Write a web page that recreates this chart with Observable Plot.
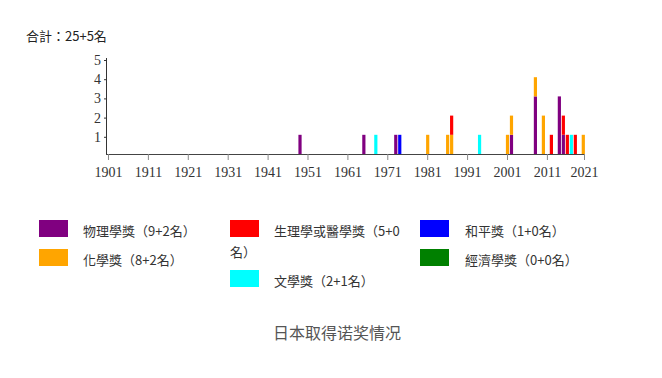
<!DOCTYPE html>
<html lang="zh-TW">
<head>
<meta charset="utf-8">
<script src="https://cdn.jsdelivr.net/npm/d3@7"></script>
<script src="https://cdn.jsdelivr.net/npm/@observablehq/plot@0.6"></script>
<style>
  html, body { margin: 0; padding: 0; background: #fff; }
  #wrap { position: relative; width: 662px; height: 378px; overflow: hidden;
          font-family: "Noto Sans CJK TC", "Noto Sans CJK SC", "Noto Sans", sans-serif; }
  #wrap svg { position: absolute; left: 0; top: 0; }
  .txt { position: absolute; white-space: nowrap; }
  .item { position: absolute; font-size: 13px; line-height: 21px; color: #333; }
  .item .sw { position: absolute; left: 0; width: 29px; height: 17px; }
</style>
</head>
<body>
<div id="wrap">
  <div class="txt" id="total" style="left:26px; top:26px; font-size:13px; line-height:20px; color:#222;"></div>
  <div id="legend"></div>
  <div class="txt" id="title" lang="zh-CN" style="left:273px; top:320px; font-size:16px; line-height:24px; color:#555;"></div>
</div>
<script>
// ---- data ----
const categories = ["物理學獎", "化學獎", "生理學或醫學獎", "文學獎", "和平獎", "經濟學獎"];
const categoryColors = ["#800080", "#FFA500", "#FF0000", "#00FFFF", "#0000FF", "#008000"];
const legendCounts = ["9+2", "8+2", "5+0", "2+1", "1+0", "0+0"];

const physicsYears = [1949, 1965, 1973, 2002, 2008, 2014, 2015];
const physicsCounts = [1, 1, 1, 1, 3, 3, 1];
const chemistryYears = [1981, 1986, 1987, 2001, 2002, 2008, 2010, 2020];
const chemistryCounts = [1, 1, 1, 1, 1, 1, 2, 1];
const medicineYears = [1987, 2012, 2015, 2016, 2018];
const medicineCounts = [1, 1, 1, 1, 1];
const literatureYears = [1968, 1994, 2017];
const literatureCounts = [1, 1, 1];
const peaceYears = [1974];
const peaceCounts = [1];
const economicsYears = [];
const economicsCounts = [];

const xTickLabels = ["1901", "1911", "1921", "1931", "1941", "1951", "1961", "1971", "1981", "1991", "2001", "2011", "2021"];
const yTicks = [1, 2, 3, 4, 5];
const totalText = "合計：25+5名";
const titleText = "日本取得诺奖情况";

// ---- build table ----
const groups = [
  [physicsYears, physicsCounts], [chemistryYears, chemistryCounts], [medicineYears, medicineCounts],
  [literatureYears, literatureCounts], [peaceYears, peaceCounts], [economicsYears, economicsCounts]
];
const table = [];
groups.forEach(([ys, cs], gi) => ys.forEach((y, i) => table.push({year: y, count: cs[i], cat: categories[gi]})));

const xStart = 1900.5, xEnd = 2020.3;
const xTickPos = xTickLabels.map(s => Math.min(+s, xEnd));
const tickMap = new Map(xTickPos.map((t, i) => [t, xTickLabels[i]]));

const chart = Plot.plot({
  width: 662,
  height: 190,
  marginLeft: 106,
  marginRight: 78,
  marginTop: 58,
  marginBottom: 36,
  style: {fontFamily: "'Liberation Serif', serif", fontSize: "14px", color: "#333", background: "transparent"},
  x: {domain: [xStart, xEnd], label: null},
  y: {domain: [0, 5], label: null},
  color: {domain: categories, range: categoryColors},
  marks: [
    Plot.ruleX(table, Plot.stackY({x: "year", y: "count", stroke: "cat", strokeWidth: 3.2})),
    Plot.ruleY([0], {stroke: "#444"}),
    Plot.ruleX([xStart], {y1: 0, y2: 5, stroke: "#333"}),
    Plot.axisY({ticks: yTicks, tickFormat: d => String(d), label: null, tickSize: 2, tickPadding: 3.5, stroke: "#333", dy: 2, fill: "#333"}),
    Plot.axisX({ticks: xTickPos, tickFormat: d => tickMap.get(d), label: null, tickSize: 6, tickPadding: 7, stroke: "#888", fill: "#333"})
  ]
});
document.getElementById("wrap").prepend(chart);

document.getElementById("total").textContent = totalText;
document.getElementById("title").textContent = titleText;

// legend (3 columns)
const legendPos = [
  {left: 39, top: 219}, {left: 39, top: 248},
  {left: 230, top: 219}, {left: 230, top: 269},
  {left: 420, top: 219}, {left: 420, top: 248}
];
const legendEl = document.getElementById("legend");
categories.forEach((c, i) => {
  const p = legendPos[i];
  const d = document.createElement("div");
  d.className = "item";
  d.style.left = p.left + "px";
  d.style.top = (p.top + 0.5) + "px";
  d.style.width = "176px";
  d.style.textIndent = (i >= 4 ? 45 : 44) + "px";
  const sw = document.createElement("span");
  sw.className = "sw";
  sw.style.background = categoryColors[i];
  sw.style.top = "0px";
  d.appendChild(sw);
  d.appendChild(document.createTextNode(c + "（" + legendCounts[i] + "名）"));
  legendEl.appendChild(d);
});
</script>
</body>
</html>
